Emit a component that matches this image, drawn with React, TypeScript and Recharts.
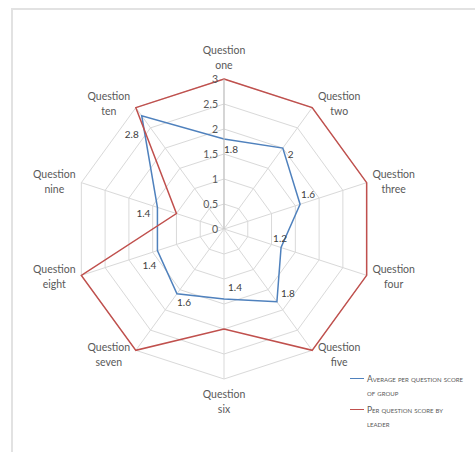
import { RadarChart, Radar, PolarGrid, PolarAngleAxis, PolarRadiusAxis, LabelList, Legend } from 'recharts'

const questions = ['one', 'two', 'three', 'four', 'five', 'six', 'seven', 'eight', 'nine', 'ten']
const groupAverage = [1.8, 2, 1.6, 1.2, 1.8, 1.4, 1.6, 1.4, 1.4, 2.8]
const leaderScore = [3, 3, 3, 3, 3, 2, 3, 3, 1, 3]
const radiusTicks = [0, 0.5, 1, 1.5, 2, 2.5, 3]

const seriesNames = ['Average per question score of group', 'Per question score by leader']

const data = questions.map((q, i) => ({
  question: `Question ${q}`,
  group: groupAverage[i],
  leader: leaderScore[i],
}))

const CX = 224
const CY = 229
const R = 150
const BLUE = '#4f81bd'
const RED = '#c0504d'
const TEXT = '#595959'
const FONT = 'Lato, "Liberation Sans", sans-serif'

// the data labels were dragged around by hand in the original, so nudge each one
const labelNudge = [[7, 10], [8, 6], [8, -10], [-1, -10], [11, -9], [11, -12], [7, 8], [-8, 14], [-14, 6], [-10, 18]]

function QuestionTick(props: any) {
  const { x, y, payload } = props
  const dx = x - CX
  const dy = y - CY
  const len = Math.hypot(dx, dy) || 1
  const ux = dx / len
  const uy = dy / len
  const vx = CX + ux * R
  const vy = CY + uy * R
  let lx = vx
  let ly = vy
  if (Math.abs(ux) < 0.1) {
    ly = vy + Math.sign(uy) * 22
  } else {
    lx = vx + Math.sign(ux) * 27
    ly = vy + uy * 5
  }
  const words = String(payload.value).split(' ')
  return (
    <text x={lx} y={ly} textAnchor="middle" fontFamily={FONT} fontSize={10.5} fill={TEXT}>
      <tspan x={lx} y={ly - 7.5} dominantBaseline="central">{words[0]}</tspan>
      <tspan x={lx} y={ly + 7.5} dominantBaseline="central">{words.slice(1).join(' ')}</tspan>
    </text>
  )
}

function ScoreTick(props: any) {
  const { x, y, payload } = props
  return (
    <text x={x - 6} y={y} textAnchor="end" dominantBaseline="central" fontFamily={FONT} fontSize={10.5} fill={TEXT}>
      {payload.value}
    </text>
  )
}

function GroupLabel(props: any) {
  const x = props.x ?? props.viewBox?.x
  const y = props.y ?? props.viewBox?.y
  const i = props.index ?? 0
  const [nx, ny] = labelNudge[i] || [6, 6]
  return (
    <text x={x + nx} y={y + ny} textAnchor="middle" dominantBaseline="central" fontFamily={FONT} fontSize={10} fill="#404040">
      {props.value}
    </text>
  )
}

function SeriesLegend(props: any) {
  const items = props.payload || []
  return (
    <div style={{ fontFamily: FONT, fontSize: 8.5, color: TEXT, fontVariant: 'small-caps' }}>
      {items.map((it: any, i: number) => (
        <div key={i} style={{ display: 'flex', alignItems: 'flex-start', marginBottom: 3 }}>
          <div style={{ width: 14, height: 0, borderTop: `1.5px solid ${it.color}`, marginTop: 6, marginRight: 3 }} />
          <div style={{ width: 96, lineHeight: '14px' }}>{it.value}</div>
        </div>
      ))}
    </div>
  )
}

export default function App() {
  return (
    <div style={{ position: 'absolute', left: 0, top: 0, width: 475, height: 452, background: '#fff' }}>
      <div
        style={{
          position: 'absolute',
          left: 11,
          top: 8,
          width: 464,
          height: 444,
          borderTop: '2px solid #e2e2e2',
          borderLeft: '2px solid #e2e2e2',
        }}
      />
      <div style={{ position: 'absolute', left: 0, top: 0 }}>
        <RadarChart width={475} height={452} data={data} cx={CX} cy={CY} outerRadius={R}>
          <PolarGrid stroke="#d9d9d9" />
          <PolarAngleAxis dataKey="question" tick={<QuestionTick />} tickLine={false} axisLine={false} />
          <PolarRadiusAxis
            type="number"
            angle={90}
            domain={[radiusTicks[0], radiusTicks[radiusTicks.length - 1]]}
            ticks={radiusTicks as any}
            tickCount={radiusTicks.length}
            allowDecimals
            tick={<ScoreTick />}
            tickLine={false}
            axisLine={{ stroke: '#bfbfbf' }}
          />
          <Radar
            name={seriesNames[0]}
            dataKey="group"
            stroke={BLUE}
            strokeWidth={1.5}
            fill="none"
            fillOpacity={0}
            dot={false}
            isAnimationActive={false}
          >
            <LabelList dataKey="group" content={<GroupLabel />} />
          </Radar>
          <Radar
            name={seriesNames[1]}
            dataKey="leader"
            stroke={RED}
            strokeWidth={1.5}
            fill="none"
            fillOpacity={0}
            dot={false}
            isAnimationActive={false}
          />
          <Legend
            verticalAlign="top"
            align="left"
            content={<SeriesLegend />}
            wrapperStyle={{ left: 350, top: 372, width: 118 }}
          />
        </RadarChart>
      </div>
    </div>
  )
}
